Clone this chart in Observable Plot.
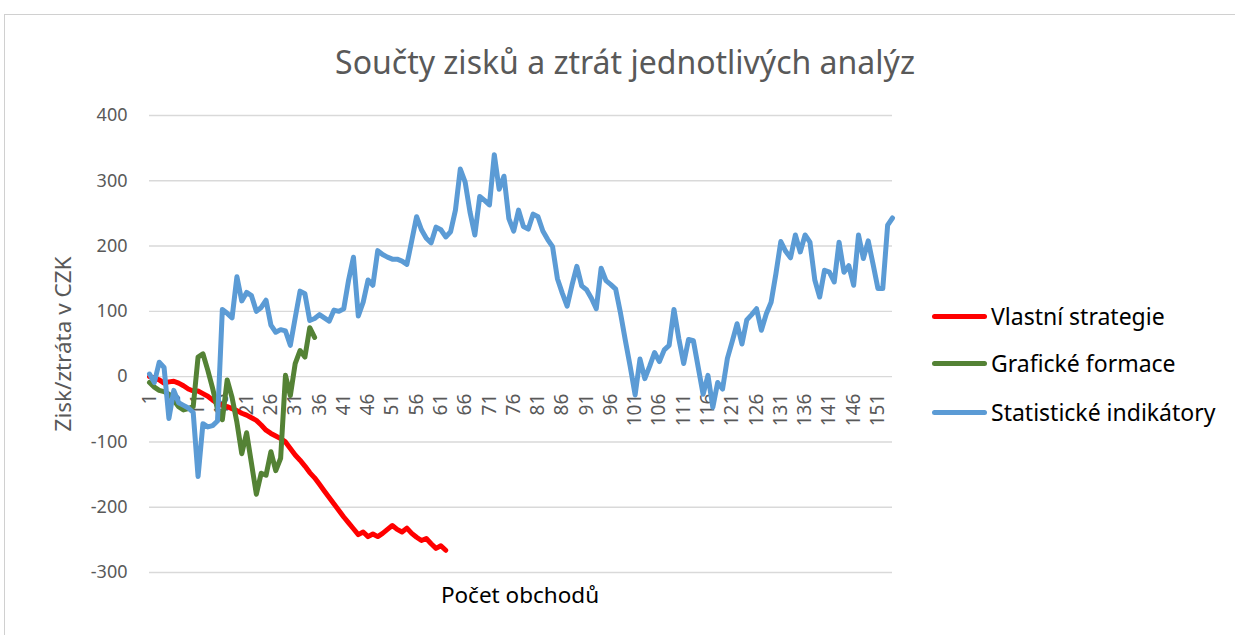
<!DOCTYPE html>
<html><head><meta charset="utf-8">
<script src="https://cdn.jsdelivr.net/npm/d3@7"></script>
<script src="https://cdn.jsdelivr.net/npm/@observablehq/plot@0.6"></script>
<style>
body{margin:0;background:#fff;font-family:"Noto Sans",sans-serif;}
#wrap{position:relative;width:1235px;height:635px;overflow:hidden;background:#fff;}
#frame{position:absolute;left:4px;top:14px;width:1300px;height:700px;border-top:1px solid #d0d0d0;border-left:1px solid #d0d0d0;}
#chart{position:absolute;left:0;top:0;}
#title{position:absolute;left:0;width:1250px;top:42px;text-align:center;font-size:32px;color:#595959;line-height:40px;white-space:nowrap;}
#ytitle{position:absolute;left:62px;top:344px;transform:translate(-50%,-50%) rotate(-90deg);font-size:22.5px;color:#595959;white-space:nowrap;}
#xtitle{position:absolute;left:520px;top:594px;transform:translate(-50%,-50%);font-size:22.5px;color:#000;white-space:nowrap;}
.leg{position:absolute;left:932px;height:32px;display:flex;align-items:center;transform:translateY(-50%);}
.leg .sw{width:55px;height:5px;border-radius:3px;margin-right:4px;}
.leg span{font-size:23px;color:#000;white-space:nowrap;}
</style></head>
<body>
<div id="wrap">
  <div id="frame"></div>
  <div id="chart"></div>
  <div id="title"></div>
  <div id="ytitle"></div>
  <div id="xtitle"></div>
  <div id="legend"></div>
</div>
<script>
const titleText = "Součty zisků a ztrát jednotlivých analýz";
const yTitle = "Zisk/ztráta v CZK";
const xTitle = "Počet obchodů";
const seriesNames = ["Vlastní strategie", "Grafické formace", "Statistické indikátory"];
const seriesColors = ["#FF0000", "#548235", "#5B9BD5"];

const vlastniStrategie = [0,-2,-5,-10,-8,-7,-10,-14,-19,-22,
 -22,-26,-30,-36,-41,-44,-46,-49,-52,-56,
 -59,-63,-67,-74,-82,-87,-91,-95,-100,-110,
 -120,-128,-137,-147,-155,-165,-175,-185,-195,-205,
 -215,-224,-233,-242,-238,-245,-241,-245,-240,-234,
 -228,-234,-238,-232,-240,-246,-251,-248,-256,-263,
 -259,-266];

const grafickeFormace = [-9,-16,-21,-23,-27,-36,-46,-51,-49,-46,
 30,35,10,-18,-50,-66,-5,-32,-70,-118,
 -86,-133,-180,-148,-151,-115,-144,-125,2,-29,
 20,40,30,75,60];

const statistickeIndikatory = [4,-9,22,14,-64,-21,-40,-44,-48,-55,
 -153,-72,-77,-75,-68,103,97,90,153,116,
 129,124,100,106,117,79,68,72,70,48,
 90,131,127,86,89,95,90,85,102,100,
 104,148,183,93,114,148,140,193,187,183,
 180,180,177,172,208,245,225,212,205,229,
 225,214,222,255,318,298,252,217,276,270,
 263,340,287,307,242,223,255,230,226,249,
 245,223,210,199,150,128,108,140,169,139,
 133,120,104,166,147,141,134,97,55,15,
 -28,27,-3,16,37,23,41,48,103,58,
 20,57,55,14,-27,2,-47,-9,-19,28,
 54,81,50,87,95,104,71,96,114,158,
 207,192,182,217,191,217,206,148,122,163,
 160,145,206,160,170,140,217,181,208,172,
 135,135,232,243];

const xTickLabels = [1,6,11,16,21,26,31,36,41,46,51,56,61,66,71,76,81,86,91,96,101,106,111,116,121,126,131,136,141,146,151];
const yTicks = [-300,-200,-100,0,100,200,300,400];

const allSeries = [vlastniStrategie, grafickeFormace, statistickeIndikatory];
const rows = allSeries.map((vals, s) => vals.map((v, k) => ({n: k + 1, v, s: seriesNames[s]})));
const nMax = Math.max(...allSeries.map(a => a.length));

const chart = Plot.plot({
  width: 1235, height: 635,
  marginLeft: 149, marginRight: 343, marginTop: 115, marginBottom: 63,
  style: {fontFamily: "'Noto Sans', sans-serif", background: "transparent"},
  x: {domain: [1, nMax], axis: null},
  y: {domain: [-300, 400], axis: null},
  color: {domain: seriesNames, range: seriesColors},
  marks: [
    Plot.gridY(yTicks, {stroke: "#d9d9d9", strokeOpacity: 1, strokeWidth: 1.4}),
    Plot.axisY(yTicks, {tickSize: 0, tickPadding: 22, fontSize: 18, fill: "#595959", label: null, tickFormat: d => String(d)}),
    Plot.text(xTickLabels, {x: d => d, y: () => 0, text: d => String(d), rotate: -90, textAnchor: "end", dy: 17, fontSize: 19, fill: "#595959"}),
    ...rows.map(r => Plot.line(r, {x: "n", y: "v", stroke: "s", strokeWidth: 5, strokeLinejoin: "round", strokeLinecap: "round"}))
  ]
});
document.getElementById("chart").appendChild(chart);
document.getElementById("title").textContent = titleText;
document.getElementById("ytitle").textContent = yTitle;
document.getElementById("xtitle").textContent = xTitle;
const legendTops = [316, 363, 412];
const leg = document.getElementById("legend");
seriesNames.forEach((name, i) => {
  const d = document.createElement("div");
  d.className = "leg";
  d.style.top = legendTops[i] + "px";
  d.innerHTML = `<div class="sw" style="background:${seriesColors[i]}"></div><span></span>`;
  d.querySelector("span").textContent = name;
  leg.appendChild(d);
});
</script>
</body></html>
